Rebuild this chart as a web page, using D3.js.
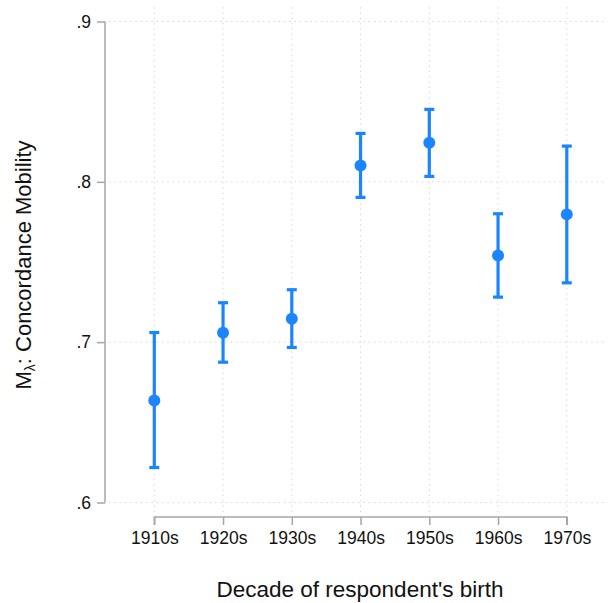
<!DOCTYPE html>
<html>
<head>
<meta charset="utf-8">
<script src="https://cdn.jsdelivr.net/npm/d3@7/dist/d3.min.js"></script>
<style>
  html, body { margin: 0; padding: 0; background: #fff; }
  svg { display: block; font-family: "Liberation Sans", Arial, sans-serif; }
</style>
</head>
<body>
<svg id="chart" width="609" height="603"></svg>
<script>
// Concordance mobility by decade of birth, with confidence intervals
const decades = ["1910s", "1920s", "1930s", "1940s", "1950s", "1960s", "1970s"];
const estimate = [0.6636, 0.7059, 0.7146, 0.8102, 0.8244, 0.7541, 0.7797];
const lower    = [0.6218, 0.6875, 0.6967, 0.7903, 0.8034, 0.7281, 0.7370];
const upper    = [0.7060, 0.7246, 0.7327, 0.8302, 0.8452, 0.7801, 0.8223];
const yTicks = [0.6, 0.7, 0.8, 0.9];
const yTickLabels = [".6", ".7", ".8", ".9"];

const color = "#1a85ff";
const axisColor = "#a6a6a6";
const gridColor = "#d8d8d8";

const svg = d3.select("#chart");

const x = d3.scalePoint().domain(decades).range([154.3, 566.8]);
const y = d3.scaleLinear().domain([0.6, 0.9]).range([502.5, 21.5]);

const plotLeft = 105, plotRight = 606, plotTop = 7, plotBottom = 512;
const xAxisY = 517;

// Grid
const grid = svg.append("g").attr("stroke", gridColor).attr("stroke-width", 1)
  .attr("stroke-dasharray", "1.5 3.8");
grid.selectAll("line.h").data(yTicks).join("line")
  .attr("class", "h")
  .attr("x1", plotLeft + 4).attr("x2", plotRight)
  .attr("y1", d => y(d)).attr("y2", d => y(d));
grid.selectAll("line.v").data(decades).join("line")
  .attr("class", "v")
  .attr("x1", d => x(d)).attr("x2", d => x(d))
  .attr("y1", plotTop).attr("y2", plotBottom);

// Y axis
const yAxis = svg.append("g")
  .attr("transform", `translate(${plotLeft},0)`)
  .call(d3.axisLeft(y).tickValues(yTicks)
    .tickFormat((d, i) => yTickLabels[i]).tickSize(8).tickPadding(6));
yAxis.select(".domain").attr("d", `M0,${y(0.6)}V${y(0.9)}`);

// X axis
const xAxis = svg.append("g")
  .attr("transform", `translate(0,${xAxisY})`)
  .call(d3.axisBottom(x).tickSize(8).tickPadding(7));
xAxis.select(".domain").attr("d", `M${x(decades[0])},8V0H${x(decades[decades.length - 1])}V8`);

[yAxis, xAxis].forEach(g => {
  g.selectAll(".domain, .tick line").attr("stroke", axisColor).attr("stroke-width", 1.5);
  g.selectAll(".tick text").attr("fill", "#111").style("font-size", "17.5px")
    .style("font-family", "'Liberation Sans', Arial, sans-serif");
});

// Error bars
const bars = svg.append("g").attr("stroke", color).attr("stroke-width", 3.2);
bars.selectAll("line.ci").data(decades).join("line")
  .attr("class", "ci")
  .attr("x1", d => x(d)).attr("x2", d => x(d))
  .attr("y1", (d, i) => y(lower[i])).attr("y2", (d, i) => y(upper[i]));
const capHalf = 5;
bars.selectAll("line.capHi").data(decades).join("line")
  .attr("class", "capHi")
  .attr("x1", d => x(d) - capHalf).attr("x2", d => x(d) + capHalf)
  .attr("y1", (d, i) => y(upper[i])).attr("y2", (d, i) => y(upper[i]));
bars.selectAll("line.capLo").data(decades).join("line")
  .attr("class", "capLo")
  .attr("x1", d => x(d) - capHalf).attr("x2", d => x(d) + capHalf)
  .attr("y1", (d, i) => y(lower[i])).attr("y2", (d, i) => y(lower[i]));

// Point estimates
svg.append("g").selectAll("circle").data(decades).join("circle")
  .attr("cx", d => x(d)).attr("cy", (d, i) => y(estimate[i]))
  .attr("r", 6).attr("fill", color);

// Axis titles
svg.append("text")
  .attr("x", 360).attr("y", 597)
  .attr("text-anchor", "middle")
  .style("font-size", "22.5px").attr("fill", "#111")
  .text("Decade of respondent's birth");

const yTitle = svg.append("text")
  .attr("transform", `translate(31,${(y(0.6) + y(0.9)) / 2 + 3}) rotate(-90)`)
  .attr("text-anchor", "middle")
  .style("font-size", "22px").attr("fill", "#111");
yTitle.append("tspan").text("M");
yTitle.append("tspan").attr("baseline-shift", "-25%").style("font-size", "14px").text("λ");
yTitle.append("tspan").text(": Concordance Mobility");
</script>
</body>
</html>
